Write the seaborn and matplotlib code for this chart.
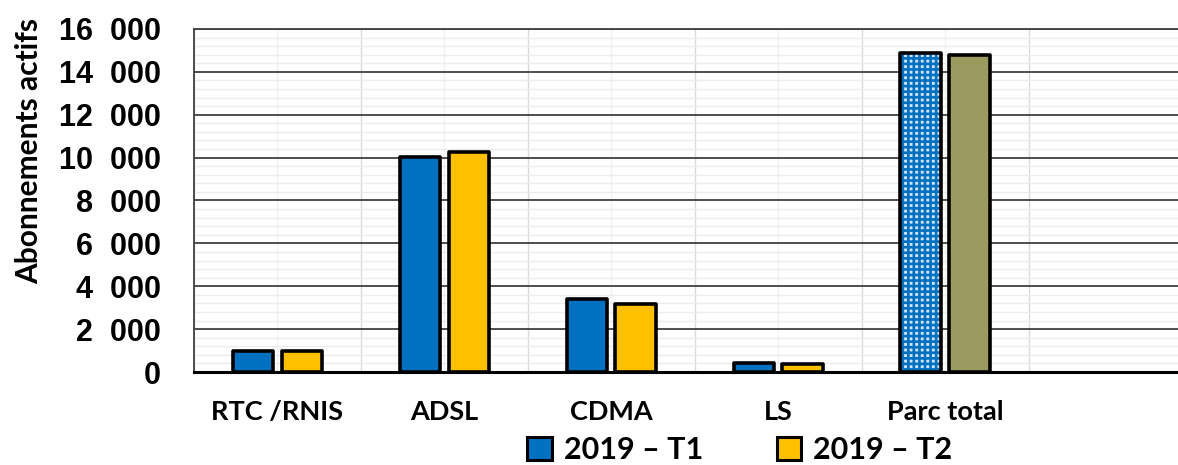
import matplotlib
matplotlib.use("Agg")
import matplotlib.pyplot as plt
import seaborn as sns
import pandas as pd
from matplotlib.ticker import MultipleLocator, FixedLocator
from matplotlib.patches import Patch, Rectangle

categories = ["RTC /RNIS", "ADSL", "CDMA", "LS", "Parc total"]
series_names = ["2019 – T1", "2019 – T2"]
t1_values = [1000, 10050, 3390, 435, 14880]
t2_values = [1000, 10250, 3170, 360, 14780]
y_ticks = [0, 2000, 4000, 6000, 8000, 10000, 12000, 14000, 16000]
y_tick_labels = ["0", "2  000", "4  000", "6  000", "8  000", "10  000", "12  000", "14  000", "16  000"]

blue = "#0070C0"
yellow = "#FFC000"
olive = "#9B9B60"
hatch_bg = "#CFE3F5"

df = pd.DataFrame({
    "cat": categories * 2,
    "serie": [series_names[0]] * len(categories) + [series_names[1]] * len(categories),
    "val": t1_values + t2_values,
})

sns.set_theme(style="white")
plt.rcParams["font.family"] = ["Lato", "DejaVu Sans"]
plt.rcParams["hatch.linewidth"] = 1.9
plt.rcParams["text.color"] = "black"
plt.rcParams["xtick.color"] = "black"
plt.rcParams["ytick.color"] = "black"
plt.rcParams["axes.labelcolor"] = "black"

fig = plt.figure(figsize=(11.78, 4.65), dpi=100)
ax = fig.add_axes([194 / 1178, 93 / 465, 984 / 1178, 343 / 465])

sns.barplot(data=df, x="cat", y="val", hue="serie", order=categories,
            hue_order=series_names, palette=[blue, yellow], saturation=1,
            width=0.585, gap=0.17,
            edgecolor="black", linewidth=2.6, legend=False, ax=ax, zorder=3)

for bar in ax.patches:
    bar.set_joinstyle("round")

# Parc total special styling
t1_total = ax.containers[0].patches[-1]
t2_total = ax.containers[1].patches[-1]
t2_total.set_facecolor(olive)
t1_total.set_facecolor(hatch_bg)
t1_total.set_edgecolor(blue)
t1_total.set_hatch("+++")
t1_total.set_linewidth(0)
outline = Rectangle((t1_total.get_x(), t1_total.get_y()), t1_total.get_width(),
                    t1_total.get_height(), facecolor="none", edgecolor="black",
                    linewidth=2.6, joinstyle="round", zorder=4)
ax.add_patch(outline)

ax.set_ylim(0, 16000)
ax.set_xlim(-0.5, 5.395)
ax.yaxis.set_major_locator(FixedLocator(y_ticks))
ax.yaxis.set_minor_locator(MultipleLocator(400))
ax.set_yticklabels(y_tick_labels, fontfamily="Liberation Sans", fontweight="bold", fontsize=22)

ax.xaxis.set_major_locator(FixedLocator(range(len(categories))))
ax.set_xticklabels(categories, fontweight="bold", fontsize=19.5)
ax.xaxis.set_minor_locator(FixedLocator([i + 0.5 for i in range(-1, 6)]))

ax.grid(which="major", axis="y", color="#404040", linewidth=1.3, zorder=1)
ax.grid(which="minor", axis="y", color="#ececec", linewidth=1.0, zorder=0)
ax.grid(which="major", axis="x", color="#f2f2f2", linewidth=1.0, zorder=0)
ax.grid(which="minor", axis="x", color="#d9d9d9", linewidth=1.0, zorder=0)
ax.set_axisbelow(True)

ax.tick_params(axis="y", which="both", length=0, pad=24)
ax.tick_params(axis="x", which="both", length=0, pad=20)

for s in ["left", "top"]:
    ax.spines[s].set_color("#404040")
    ax.spines[s].set_linewidth(1.3)
ax.spines["right"].set_visible(False)
ax.spines["bottom"].set_color("black")
ax.spines["bottom"].set_linewidth(2.2)

ax.set_xlabel("")
ax.set_ylabel("Abonnements actifs", fontweight="bold", fontsize=21.5)
ax.yaxis.set_label_coords(-0.1535, 0.645)

handles = [Patch(facecolor=blue, edgecolor="black", linewidth=2.2),
           Patch(facecolor=yellow, edgecolor="black", linewidth=2.2)]
leg = fig.legend(handles, series_names, loc="center", bbox_to_anchor=(0.628, 0.032),
                 ncol=2, frameon=False, handlelength=0.8, handleheight=0.8,
                 handletextpad=0.4, columnspacing=2.4,
                 prop={"weight": "bold", "size": 22})

fig.savefig("out.png", dpi=100)
